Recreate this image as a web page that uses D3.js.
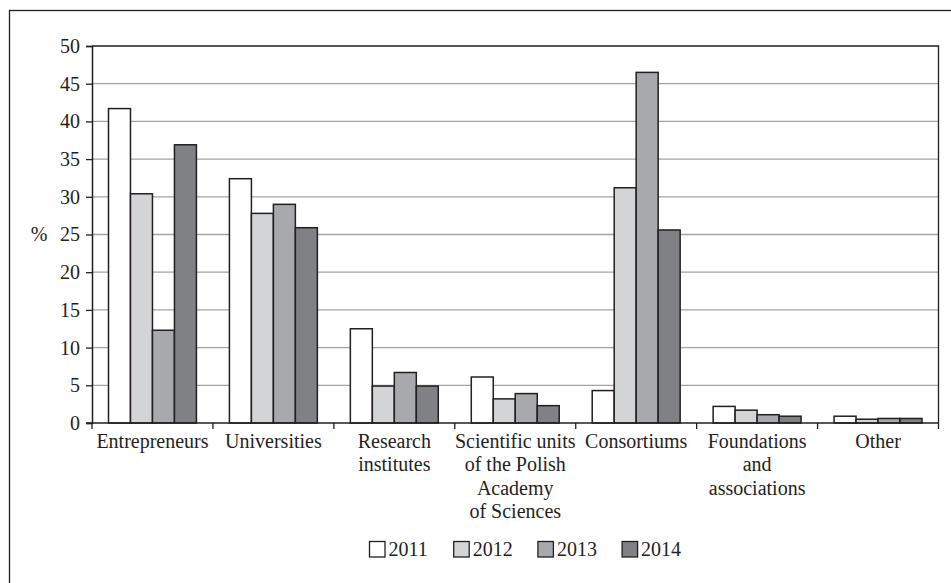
<!DOCTYPE html>
<html>
<head>
<meta charset="utf-8">
<script src="https://cdn.jsdelivr.net/npm/d3@7"></script>
<style>
  html, body { margin: 0; padding: 0; background: #fff; }
  svg { display: block; }
</style>
</head>
<body>
<svg id="chart" width="951" height="583"></svg>
<script>
const categories = [
  ["Entrepreneurs"],
  ["Universities"],
  ["Research", "institutes"],
  ["Scientific units", "of the Polish", "Academy", "of Sciences"],
  ["Consortiums"],
  ["Foundations", "and", "associations"],
  ["Other"]
];
const years = ["2011", "2012", "2013", "2014"];
const values2011 = [41.7, 32.4, 12.5, 6.1, 4.3, 2.2, 0.9];
const values2012 = [30.4, 27.8, 4.9, 3.2, 31.2, 1.7, 0.5];
const values2013 = [12.3, 29.0, 6.7, 3.9, 46.5, 1.1, 0.6];
const values2014 = [36.9, 25.9, 4.9, 2.3, 25.6, 0.9, 0.6];
const yTicks = [0, 5, 10, 15, 20, 25, 30, 35, 40, 45, 50];
const colors = ["#ffffff", "#d3d4d6", "#a8a9ac", "#808185"];

const series = [values2011, values2012, values2013, values2014];
const catNames = categories.map(c => c.join(" "));
const FONT = '"Liberation Serif", "Times New Roman", Times, serif';
const INK = "#231f20";

const svg = d3.select("#chart");
const mLeft = 92, mRight = 938.5, mTop = 46, mBottom = 423;

// outer frame
svg.append("rect").attr("x", 9.5).attr("y", 10.5).attr("width", 1000).attr("height", 1000)
  .attr("fill", "none").attr("stroke", INK).attr("stroke-width", 1.3);

const x0 = d3.scaleBand().domain(catNames).range([mLeft, mRight]).paddingInner(0).paddingOuter(0);
const x1 = d3.scaleBand().domain(years).range([16.5, x0.bandwidth() - 16.5]).padding(0);
const y = d3.scaleLinear().domain([0, 50]).range([mBottom, mTop]);

// gridlines
svg.append("g").selectAll("line").data(yTicks.filter(t => t > 0 && t < 50)).join("line")
  .attr("x1", mLeft).attr("x2", mRight)
  .attr("y1", d => y(d)).attr("y2", d => y(d))
  .attr("stroke", "#a3a3a3").attr("stroke-width", 1.3);

// plot top/right border
svg.append("path")
  .attr("d", `M${mLeft},${mTop}H${mRight}V${mBottom}`)
  .attr("fill", "none").attr("stroke", INK).attr("stroke-width", 1.3);

// bars
const groups = svg.append("g").selectAll("g").data(catNames).join("g")
  .attr("transform", d => `translate(${x0(d)},0)`);
groups.selectAll("rect").data((d, i) => years.map((yr, j) => ({ yr, v: series[j][i], j })))
  .join("rect")
  .attr("x", d => x1(d.yr))
  .attr("width", x1.bandwidth())
  .attr("y", d => y(d.v))
  .attr("height", d => y(0) - y(d.v))
  .attr("fill", d => colors[d.j])
  .attr("stroke", INK).attr("stroke-width", 1.5);

// y axis
const yAxis = d3.axisLeft(y).tickValues(yTicks).tickSize(6).tickPadding(6).tickFormat(d3.format("d"));
const gy = svg.append("g").attr("transform", `translate(${mLeft},0)`).call(yAxis);
gy.attr("font-family", null).attr("font-size", null);
gy.select(".domain").attr("stroke", INK).attr("stroke-width", 1.5);
gy.selectAll(".tick line").attr("stroke", INK).attr("stroke-width", 1.3);
gy.selectAll(".tick text").style("font-family", FONT).style("font-size", "20px").attr("fill", INK);

// x axis
const xTickPos = catNames.map(c => x0(c)).concat([mRight]);
const gx = svg.append("g");
gx.append("line").attr("x1", mLeft - 6).attr("x2", mRight).attr("y1", mBottom).attr("y2", mBottom)
  .attr("stroke", INK).attr("stroke-width", 1.5);
gx.selectAll("line.t").data(xTickPos).join("line").attr("class", "t")
  .attr("x1", d => d).attr("x2", d => d).attr("y1", mBottom).attr("y2", mBottom + 6)
  .attr("stroke", INK).attr("stroke-width", 1.3);

const labels = svg.append("g").selectAll("text").data(categories).join("text")
  .attr("x", (d, i) => x0(catNames[i]) + x0.bandwidth() / 2)
  .attr("y", 448)
  .attr("text-anchor", "middle")
  .attr("fill", INK)
  .style("font-family", FONT).style("font-size", "20px");
labels.selectAll("tspan").data(d => d).join("tspan")
  .attr("x", function () { return d3.select(this.parentNode).attr("x"); })
  .attr("dy", (d, i) => i === 0 ? 0 : 23.3)
  .text(d => d);

// % label
svg.append("text").attr("x", 39).attr("y", 241).attr("text-anchor", "middle")
  .attr("fill", INK).style("font-family", FONT).style("font-size", "20px").text("%");

// legend
const legend = svg.append("g").selectAll("g").data(years).join("g")
  .attr("transform", (d, i) => `translate(${369.5 + i * 84.2},541.5)`);
legend.append("rect").attr("width", 15.5).attr("height", 15.5)
  .attr("fill", (d, i) => colors[i]).attr("stroke", INK).attr("stroke-width", 1.3);
legend.append("text").attr("x", 19).attr("y", 14.5).attr("fill", INK)
  .style("font-family", FONT).style("font-size", "20px").text(d => d);
</script>
</body>
</html>
